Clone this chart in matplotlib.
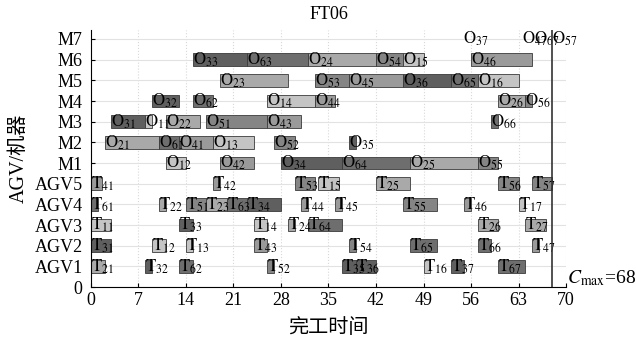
import matplotlib.pyplot as plt

# ----------------------------------------------------
# Fonts
# ----------------------------------------------------

plt.rcParams['font.family'] = ['Liberation Serif', 'Noto Sans CJK SC']
plt.rcParams['mathtext.fontset'] = 'stix'

# ----------------------------------------------------
# Data (FT06 schedule with AGV transport)
# ----------------------------------------------------

row_labels = ['0', 'AGV1', 'AGV2', 'AGV3', 'AGV4', 'AGV5',
              'M1', 'M2', 'M3', 'M4', 'M5', 'M6', 'M7']

# grey level per job 1..6
job_colors = ['#c4c4c4', '#a9a9a9', '#5f5f5f', '#9a9a9a', '#858585', '#6e6e6e']

# machine operations O_{job,step}
op_names = ['12', '42', '34', '64', '25', '55',
            '21', '61', '41', '13', '52', '35',
            '31', '11', '22', '51', '43', '66',
            '32', '62', '14', '44', '26', '56',
            '23', '53', '45', '36', '65', '16',
            '33', '63', '24', '54', '15', '46']
op_rows = ['M1'] * 6 + ['M2'] * 6 + ['M3'] * 6 + ['M4'] * 6 + ['M5'] * 6 + ['M6'] * 6
op_start = [11, 19, 28, 37, 47, 57,
            2, 10, 13, 18, 27, 38,
            3, 8, 11, 17, 26, 59,
            9, 15, 26, 33, 60, 64,
            19, 33, 38, 46, 53, 57,
            15, 23, 32, 42, 46, 56]
op_end = [14, 24, 37, 47, 57, 60,
          10, 13, 18, 24, 30, 39,
          8, 9, 16, 26, 31, 60,
          13, 18, 33, 36, 64, 65,
          29, 38, 46, 53, 57, 63,
          23, 32, 42, 46, 49, 65]

# finishing marks on M7 (label positions)
m7_names = ['37', '47', '67', '57']
m7_pos = [54.8, 63.5, 65.3, 68]

# AGV transport tasks T_{job,step}
tr_names = ['21', '32', '62', '52', '35', '36', '16', '37', '67',
            '31', '12', '13', '43', '54', '65', '66', '47',
            '11', '33', '14', '24', '64', '26', '27',
            '61', '22', '51', '23', '63', '34', '44', '45', '55', '46', '17',
            '41', '42', '53', '15', '25', '56', '57']
tr_rows = (['AGV1'] * 9 + ['AGV2'] * 8 + ['AGV3'] * 7 +
           ['AGV4'] * 11 + ['AGV5'] * 7)
tr_start = [0, 8, 13, 26, 37, 39, 49, 53, 60,
            0, 9, 14, 24, 38, 47, 57, 65,
            0, 13, 24, 29, 32, 57, 64,
            0, 10, 14, 17, 20, 23, 31, 36, 46, 55, 63,
            0, 18, 30, 33.5, 42, 60, 65]
tr_end = [2, 9, 15, 27, 39, 42, 50, 55, 64,
          3, 11, 15, 26, 39, 51, 59, 66,
          3, 15, 26, 30, 37, 60, 67,
          1, 11, 17, 20, 23, 28, 32, 37, 51, 56, 64,
          1.6, 19, 33, 36.5, 47, 63, 68]

c_max = 68
x_ticks = list(range(0, 71, 7))

# ----------------------------------------------------
# Plot
# ----------------------------------------------------

fig = plt.figure(figsize=(6.36, 3.37), dpi=100)
ax = fig.add_axes([0.143, 0.148, 0.747, 0.764])

row_y = {name: i for i, name in enumerate(row_labels)}
bar_h = 0.62

for name, row, s, e in zip(op_names, op_rows, op_start, op_end):
    y = row_y[row]
    ax.barh(y, e - s, left=s, height=bar_h, color=job_colors[int(name[0]) - 1],
            edgecolor='#3a3a3a', linewidth=0.6, zorder=2)
    ax.text(s, y, r'$\mathrm{O}_{%s}$' % name, ha='left', va='center',
            fontsize=12, zorder=3)

for name, x in zip(m7_names, m7_pos):
    ax.text(x, row_y['M7'], r'$\mathrm{O}_{%s}$' % name, ha='left', va='center',
            fontsize=12, zorder=3)

for name, row, s, e in zip(tr_names, tr_rows, tr_start, tr_end):
    y = row_y[row]
    ax.barh(y, e - s, left=s, height=bar_h, color=job_colors[int(name[0]) - 1],
            edgecolor='#3a3a3a', linewidth=0.6, zorder=2)
    ax.text(s, y, r'$\mathrm{T}_{%s}$' % name, ha='left', va='center',
            fontsize=12, zorder=3)

# Cmax line
ax.axvline(c_max, color='#333333', linewidth=1.2, zorder=4)
ax.text(70.1, 0.45, r'$C_{\mathrm{max}}$=68', ha='left', va='center',
        fontsize=14, clip_on=False)

ax.set_xlim(0, 70)
ax.set_ylim(0, 12.45)
ax.set_xticks(x_ticks)
ax.set_yticks(range(len(row_labels)))
ax.set_yticklabels(row_labels)
ax.tick_params(direction='in', length=3, labelsize=13, width=0.8)
ax.tick_params(axis='y', pad=6)

# light grid: solid rows, dotted time marks
ax.grid(True, axis='y', color='#e2e2e2', linewidth=0.8, zorder=0)
ax.grid(True, axis='x', color='#d8d8d8', linewidth=0.8, linestyle=':', zorder=0)
ax.set_axisbelow(True)

for side in ['top', 'right']:
    ax.spines[side].set_visible(False)
for side in ['left', 'bottom']:
    ax.spines[side].set_linewidth(0.8)

ax.set_title('FT06', fontsize=13, pad=8)
ax.set_xlabel('完工时间', fontsize=14.5, labelpad=7)
ax.set_ylabel('AGV/机器', fontsize=14.5, labelpad=4)

plt.savefig('out.png', dpi=100)
plt.close()
